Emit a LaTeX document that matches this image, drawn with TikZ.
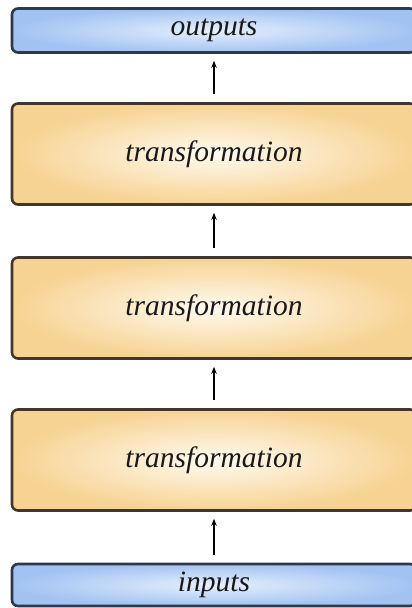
\documentclass[tikz,border=0pt]{standalone}
\usepackage{fontspec}
\newfontfamily\boxfont{Liberation Serif Italic}
\usetikzlibrary{arrows.meta}
\definecolor{orout}{HTML}{F7D393}
\definecolor{orin}{HTML}{FFFAF0}
\definecolor{blout}{HTML}{A2C3F2}
\definecolor{blin}{HTML}{E6EFFC}
\definecolor{orline}{HTML}{3F372D}
\definecolor{blline}{HTML}{2F3748}
\tikzset{
  box/.style={draw, line width=2.6pt, rounded corners=6pt, minimum width=404pt,
    inner sep=0pt, font=\boxfont\fontsize{29.5}{34}\selectfont, text=black!90},
  tbox/.style={box, draw=orline, inner color=orin, outer color=orout, minimum height=101pt},
  iobox/.style={box, draw=blline, inner color=blin, outer color=blout, minimum height=44pt},
  flow/.style={-{Stealth[length=7pt,width=5.5pt]}, line width=1.4pt, shorten >=7pt, shorten <=8pt}
}
\begin{document}
\begin{tikzpicture}[x=1pt,y=1pt]
\useasboundingbox (0,0) rectangle (412,608);
\clip (0,0) rectangle (412,608);
\node[iobox] (out) at (214,577.5) {outputs};
\node[tbox] (t1) at (214,454) {transformation};
\node[tbox] (t2) at (214,300) {transformation};
\node[tbox] (t3) at (214,148) {transformation};
\node[iobox, minimum height=42pt] (in) at (214,23) {inputs};
\draw[flow] (in.north) -- (t3.south);
\draw[flow] (t3.north) -- (t2.south);
\draw[flow] (t2.north) -- (t1.south);
\draw[flow] (t1.north) -- (out.south);
\end{tikzpicture}
\end{document}
